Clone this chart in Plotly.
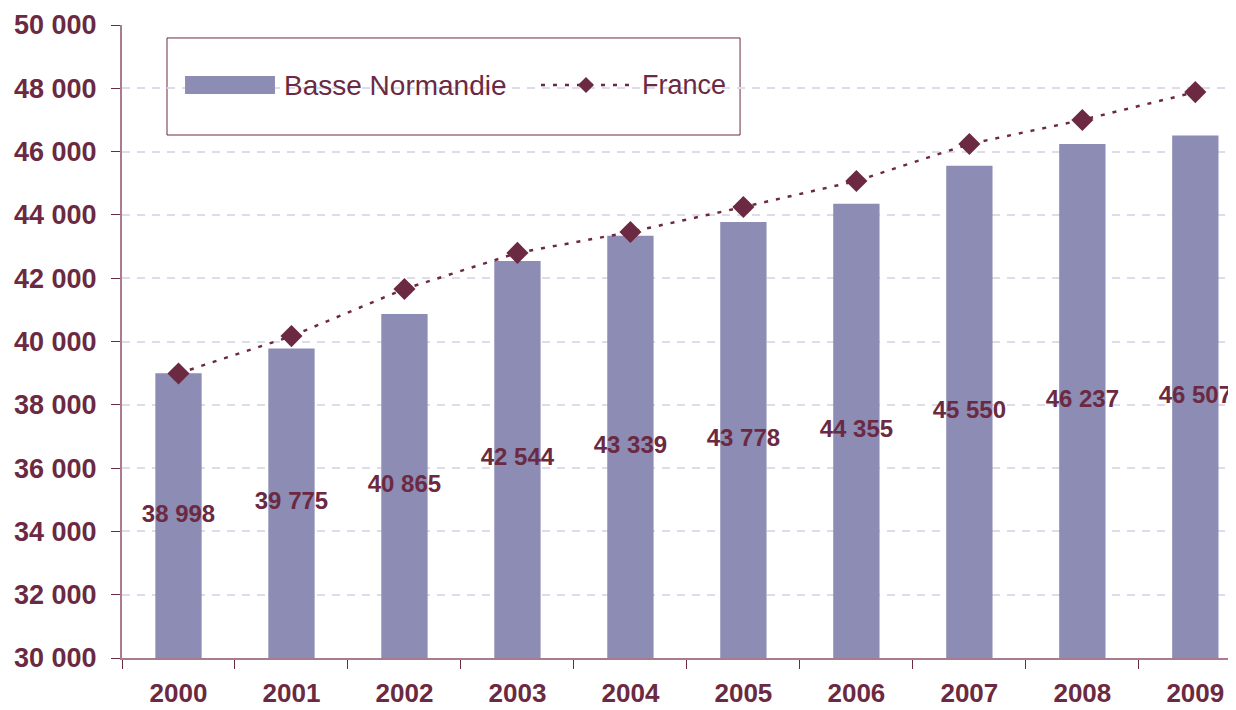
import plotly.graph_objects as go

years = ['2000', '2001', '2002', '2003', '2004', '2005', '2006', '2007', '2008', '2009']
basse_normandie = [38998, 39775, 40865, 42544, 43339, 43778, 44355, 45550, 46237, 46507]
france = [38990, 40170, 41660, 42800, 43460, 44250, 45070, 46240, 47000, 47880]

y_min = 30000
y_max = 50000

maroon = '#6B2A42'
bar_color = '#8C8CB4'
font_family = 'Arial, Liberation Sans, sans-serif'


def fmt(v):
    return f'{v:,}'.replace(',', ' ')


fig = go.Figure()

fig.add_trace(go.Bar(
    name='Basse Normandie',
    x=years,
    y=basse_normandie,
    width=0.41,
    marker=dict(color=bar_color, line=dict(width=0)),
    showlegend=False,
))

# labels sit in the middle of the visible part of each bar
fig.add_trace(go.Scatter(
    x=years,
    y=[(y_min + v) / 2 for v in basse_normandie],
    mode='text',
    text=[fmt(v) for v in basse_normandie],
    textfont=dict(family=font_family, size=24, color=maroon, weight='bold'),
    showlegend=False,
    hoverinfo='skip',
    cliponaxis=False,
))

fig.add_trace(go.Scatter(
    name='France',
    x=years,
    y=france,
    mode='lines+markers',
    line=dict(color=maroon, width=2.5, dash='4px,8px'),
    marker=dict(symbol='diamond', size=17, color=maroon),
    showlegend=False,
))

# hand-made legend box to match the wide swatch of the original
legend_shapes = [
    dict(type='rect', xref='paper', yref='paper', x0=0.0404, x1=0.5548, y0=0.8262, y1=0.9795,
         line=dict(color=maroon, width=1), fillcolor='white', layer='below'),
    dict(type='rect', xref='paper', yref='paper', x0=0.0566, x1=0.1373, y0=0.8910, y1=0.9194,
         line=dict(width=0), fillcolor=bar_color),
    dict(type='line', xref='paper', yref='paper', x0=0.3761, x1=0.4578, y0=0.9052, y1=0.9052,
         line=dict(color=maroon, width=2.5, dash='4px,8px')),
    dict(type='path', xref='paper', yref='paper',
         path='M 0.4165 0.9178 L 0.4237 0.9052 L 0.4165 0.8926 L 0.4093 0.9052 Z',
         line=dict(width=0), fillcolor=maroon),
]

# page body adds an 8px margin, so the figure is 8px smaller each way
fig.update_layout(
    width=1228,
    height=702,
    margin=dict(l=114, r=0, t=17, b=52),
    plot_bgcolor='white',
    paper_bgcolor='white',
    separators='. ',
    font=dict(family=font_family, color=maroon),
    shapes=legend_shapes,
    annotations=[
        dict(text='Basse Normandie', xref='paper', yref='paper', x=0.1436, y=0.9052,
             xanchor='left', yanchor='middle', showarrow=False,
             font=dict(size=28, color=maroon, family=font_family)),
        dict(text='France', xref='paper', yref='paper', x=0.4650, y=0.9052,
             xanchor='left', yanchor='middle', showarrow=False,
             font=dict(size=27, color=maroon, family=font_family)),
    ],
    xaxis=dict(
        type='category',
        range=[-0.5, 9.36],
        automargin=False,
        showline=True,
        linecolor='#A87C8E',
        linewidth=2,
        ticks='outside',
        tickson='boundaries',
        ticklen=9,
        tickcolor=maroon,
        ticklabelstandoff=11,
        tickfont=dict(size=26, color=maroon, weight='bold'),
        showgrid=False,
    ),
    yaxis=dict(
        range=[y_min, y_max],
        dtick=2000,
        tickformat=',d',
        automargin=False,
        showline=True,
        linecolor='#A87C8E',
        linewidth=2,
        ticks='outside',
        ticklen=9,
        tickcolor=maroon,
        ticklabelstandoff=9,
        tickfont=dict(size=27, color=maroon, weight='bold'),
        showgrid=True,
        gridcolor='#DEDCEA',
        gridwidth=1.5,
        griddash='8px,7px',
        zeroline=False,
    ),
    bargap=0.59,
)

fig.write_html('out.html')
